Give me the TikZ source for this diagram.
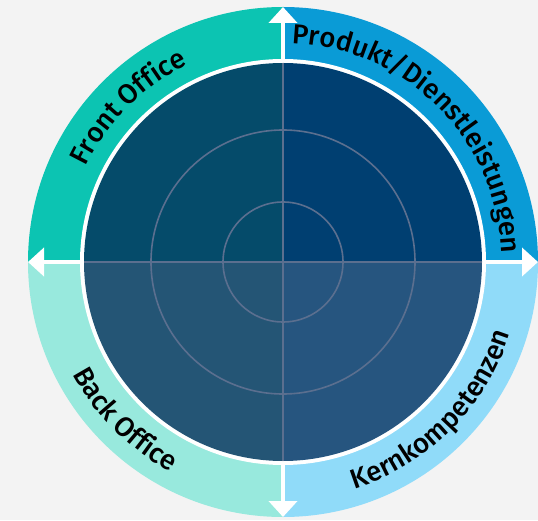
\documentclass[tikz,border=0pt]{standalone}
\usepackage{fontspec}
\setmainfont{Fira Sans}
\newfontfamily\lblfamily{Fira Sans Medium}
\usetikzlibrary{arrows.meta,decorations.text}
\definecolor{bg}{HTML}{F3F3F3}
\definecolor{rtl}{HTML}{0CC4B2}
\definecolor{rtr}{HTML}{0A9BD6}
\definecolor{rbl}{HTML}{98E9DD}
\definecolor{rbr}{HTML}{90DBF9}
\definecolor{dtl}{HTML}{054B6A}
\definecolor{dtr}{HTML}{003F71}
\definecolor{dbl}{HTML}{245575}
\definecolor{dbr}{HTML}{26557F}
\definecolor{gridc}{HTML}{5B6F8F}
\newcommand\lblfont{\lblfamily\fontsize{27.5}{32}\selectfont}
\begin{document}
\begin{tikzpicture}[x=1pt,y=1pt,
  gridline/.style={draw=gridc,line width=1.6pt},
  axisarrow/.style={draw=white,line width=4pt,-{Triangle[width=28pt,length=16pt]}},
  ringlabel/.style={decorate,decoration={text along path,text align=center,text={|\lblfont|#1}}}]
\fill[bg] (0,0) rectangle (538,520);
\useasboundingbox (0,0) rectangle (538,520);
\coordinate (c) at (283,258);
% outer ring sectors
\fill[rtr] (c) -- ++(0:255) arc[start angle=0,end angle=90,radius=255] -- cycle;
\fill[rtl] (c) -- ++(90:255) arc[start angle=90,end angle=180,radius=255] -- cycle;
\fill[rbl] (c) -- ++(180:255) arc[start angle=180,end angle=270,radius=255] -- cycle;
\fill[rbr] (c) -- ++(270:255) arc[start angle=270,end angle=360,radius=255] -- cycle;
% white separator
\fill[white] (c) circle[radius=203];
% inner disc
\fill[dtr] (c) -- ++(0:199) arc[start angle=0,end angle=90,radius=199] -- cycle;
\fill[dtl] (c) -- ++(90:199) arc[start angle=90,end angle=180,radius=199] -- cycle;
\fill[dbl] (c) -- ++(180:199) arc[start angle=180,end angle=270,radius=199] -- cycle;
\fill[dbr] (c) -- ++(270:199) arc[start angle=270,end angle=360,radius=199] -- cycle;
% grid
\draw[gridline] (c) circle[radius=60];
\draw[gridline] (c) circle[radius=132];
\draw[gridline] (c) ++(-199,0) -- ++(398,0);
\draw[gridline] (c) ++(0,-199) -- ++(0,398);
% arrows
\draw[axisarrow] (c) ++(0,201) -- ++(0,54);
\draw[axisarrow] (c) ++(0,-201) -- ++(0,-54);
\draw[axisarrow] (c) ++(201,0) -- ++(54,0);
\draw[axisarrow] (c) ++(-201,0) -- ++(-54,0);
% labels
\path[ringlabel={Front Office}] (c) ++(175:219) arc[start angle=175,end angle=95,radius=219];
\path[ringlabel={Produkt/Dienstleistungen}] (c) ++(95:219) arc[start angle=95,end angle=-5,radius=219];
\path[ringlabel={Back Office}] (c) ++(185:238) arc[start angle=185,end angle=265,radius=238];
\path[ringlabel={Kernkompetenzen}] (c) ++(275:238) arc[start angle=275,end angle=355,radius=238];
\end{tikzpicture}
\end{document}
